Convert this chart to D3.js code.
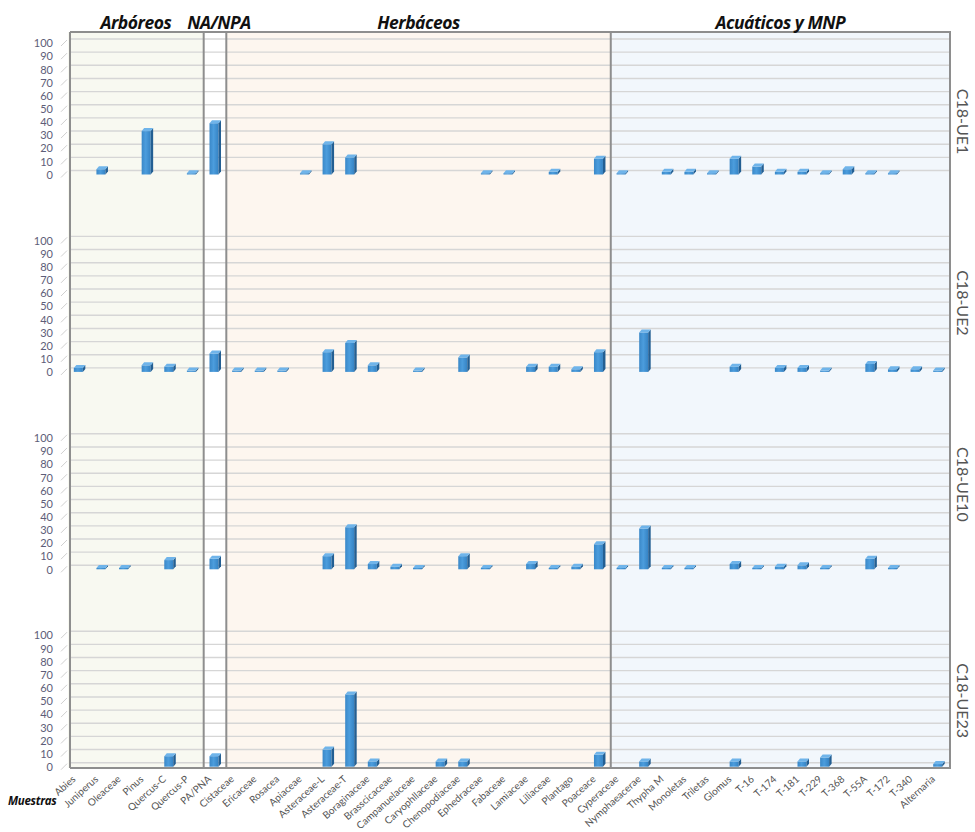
<!DOCTYPE html>
<html>
<head>
<meta charset="utf-8">
<script src="https://cdn.jsdelivr.net/npm/d3@7"></script>
<style>
  html, body { margin: 0; padding: 0; background: #ffffff; }
  svg { display: block; }
</style>
</head>
<body>
<div id="chart"></div>
<script>
// ---------------- DATA ----------------
const categories = [
  "Abies","Juniperus","Oleaceae","Pinus","Quercus-C","Quercus-P",
  "PA/PNA",
  "Cistaceae","Ericaceae","Rosacea","Apiaceae","Asteraceae-L","Asteraceae-T","Boraginaceae",
  "Brasscicaceae","Campanuelaceae","Caryophllaceae","Chenopodiaceae","Ephedraceae","Fabaceae",
  "Lamiaceae","Liliaceae","Plantago","Poaceace",
  "Cyperaceae","Nymphaeacerae","Thypha M","Monoletas","Triletas","Glomus","T-16","T-174",
  "T-181","T-229","T-368","T-55A","T-172","T-340","Alternaria"
];
const groupNames = ["Arbóreos", "NA/NPA", "Herbáceos", "Acuáticos y MNP"];
const groupSizes = [6, 1, 17, 15];
const samples = ["C18-UE1", "C18-UE2", "C18-UE10", "C18-UE23"];

const ue1  = [0,4,0,33,0,1, 39, 0,0,0,1,23,13,0, 0,0,0,0,1,1, 0,2,0,12, 1,0,2,2,1,12,6,2, 2,1,4,1,1,0,0];
const ue2  = [3,0,0,5,4,1, 14, 1,1,1,0,15,22,5, 0,1,0,11,0,0, 4,4,2,15, 0,30,0,0,0,4,0,3, 3,1,0,6,2,2,1];
const ue10 = [0,1,1,0,7,0, 8, 0,0,0,0,10,32,4, 2,1,0,10,1,0, 4,1,2,19, 1,31,1,1,0,4,1,2, 3,1,0,8,1,0,0];
const ue23 = [0,0,0,0,8,0, 8, 0,0,0,0,13,55,4, 0,0,4,4,0,0, 0,0,0,9, 0,4,0,0,0,4,0,0, 4,7,0,0,0,0,2];
const seriesValues = [ue1, ue2, ue10, ue23];
const yTicks = [0,10,20,30,40,50,60,70,80,90,100];

// ---------------- LAYOUT ----------------
const W = 975, H = 832;
const plotLeft = 68, plotRight = 950, frameTop = 32, frameBottom = 768;
const groupFills = ["#f8f9f1", "#ffffff", "#fdf6ef", "#f2f7fc"];
const sampleLabelOffsets = [-53, -69, -85, -66];

const svg = d3.select("#chart").append("svg")
  .attr("width", W).attr("height", H)
  .attr("viewBox", `0 0 ${W} ${H}`);

const defs = svg.append("defs");
const grad = defs.append("linearGradient").attr("id", "front").attr("x1", "0").attr("x2", "1").attr("y1", "0").attr("y2", "0");
grad.append("stop").attr("offset", "0%").attr("stop-color", "#3a88c8");
grad.append("stop").attr("offset", "45%").attr("stop-color", "#4c9ddd");
grad.append("stop").attr("offset", "100%").attr("stop-color", "#3583c4");

const x = d3.scaleBand().domain(categories).range([plotLeft, plotRight]).paddingInner(0).paddingOuter(0);
const panelBase = d3.scalePoint().domain(samples).range([174.5, 766.7]);
const panelHeight = 131.5;

// group extents
let idx = 0;
const groups = groupNames.map((name, i) => {
  const first = categories[idx];
  const last = categories[idx + groupSizes[i] - 1];
  idx += groupSizes[i];
  return { name, x0: x(first), x1: x(last) + x.bandwidth(), fill: groupFills[i] };
});

// backgrounds
svg.append("g").selectAll("rect").data(groups).join("rect")
  .attr("x", d => d.x0).attr("y", frameTop)
  .attr("width", d => d.x1 - d.x0).attr("height", frameBottom - frameTop)
  .attr("fill", d => d.fill);

// gridlines, tick labels
samples.forEach((s, si) => {
  const base = panelBase(s);
  const y = d3.scaleLinear().domain([0, 100]).range([base, base - panelHeight]);
  const g = svg.append("g");
  g.selectAll("line.grid").data(yTicks).join("line")
    .attr("class", "grid")
    .attr("x1", plotLeft + 2).attr("x2", plotRight)
    .attr("y1", d => y(d) - 4).attr("y2", d => y(d) - 4)
    .attr("stroke", "#d6d6d6").attr("stroke-width", 1.4);
  g.selectAll("line.diag").data(yTicks).join("line")
    .attr("class", "diag")
    .attr("x1", 61).attr("x2", 67)
    .attr("y1", d => y(d) + 3).attr("y2", d => y(d) - 3)
    .attr("stroke", "#d0d0d0").attr("stroke-width", 1);
  g.selectAll("text.tick").data(yTicks).join("text")
    .attr("class", "tick")
    .attr("x", 53).attr("y", d => y(d) + 1.5)
    .attr("text-anchor", "end").attr("dominant-baseline", "middle")
    .attr("font-family", "Lato, 'Open Sans', sans-serif").attr("font-size", 11)
    .attr("fill", "#5d5d78")
    .text(d => d);

  // sample label on the right
  svg.append("text")
    .attr("transform", `translate(957, ${base + sampleLabelOffsets[si]}) rotate(90)`)
    .attr("text-anchor", "middle")
    .attr("font-family", "Lato, 'Open Sans', sans-serif").attr("font-size", 16)
    .attr("fill", "#555555")
    .text(s);
});

// frame lines
const frame = svg.append("g").attr("stroke", "#8e8e8e").attr("stroke-width", 2).attr("fill", "none");
frame.append("line").attr("x1", plotLeft + 2).attr("x2", plotRight + 1).attr("y1", frameTop).attr("y2", frameTop);
frame.append("line").attr("x1", plotLeft + 2).attr("x2", plotRight + 1).attr("y1", frameBottom).attr("y2", frameBottom);
frame.append("line").attr("x1", plotLeft + 2).attr("x2", plotLeft + 2).attr("y1", frameTop).attr("y2", frameBottom);
groups.forEach(gr => {
  frame.append("line").attr("x1", gr.x1).attr("x2", gr.x1).attr("y1", frameTop).attr("y2", frameBottom);
});

// bars
const fw = 9, dx = 2.5, dy = 3;
samples.forEach((s, si) => {
  const base = panelBase(s);
  const y = d3.scaleLinear().domain([0, 100]).range([base, base - panelHeight]);
  const data = categories.map((c, i) => ({ c, v: seriesValues[si][i] })).filter(d => d.v > 0);
  const g = svg.append("g");
  const bar = g.selectAll("g.bar").data(data).join("g").attr("class", "bar");
  const x0 = d => x(d.c) + x.bandwidth() / 2 - 5.5;
  bar.append("rect")
    .attr("x", x0).attr("y", d => y(d.v))
    .attr("width", fw).attr("height", d => base - y(d.v))
    .attr("fill", "url(#front)");
  bar.append("path")
    .attr("d", d => {
      const a = x0(d) + fw, t = y(d.v);
      return `M${a},${t}L${a + dx},${t - dy}L${a + dx},${base - dy}L${a},${base}Z`;
    })
    .attr("fill", "#235f93");
  bar.append("path")
    .attr("d", d => {
      const a = x0(d), t = y(d.v);
      return `M${a},${t}L${a + dx},${t - dy}L${a + fw + dx},${t - dy}L${a + fw},${t}Z`;
    })
    .attr("fill", "#6fb4ea");
});

// group headers
svg.append("g").selectAll("text").data(groups).join("text")
  .attr("x", (d, i) => (d.x0 + d.x1) / 2 + (i === 1 ? 4 : 0))
  .attr("y", 29)
  .attr("text-anchor", "middle")
  .attr("font-family", "'Open Sans', sans-serif")
  .attr("font-weight", "bold").attr("font-style", "italic")
  .attr("font-size", 17.5).attr("letter-spacing", -0.5)
  .attr("fill", "#111111")
  .text(d => d.name);

// category labels
svg.append("g").selectAll("text").data(categories).join("text")
  .attr("transform", d => `translate(${x(d) + x.bandwidth() / 2 - 3}, 780) rotate(-42)`)
  .attr("text-anchor", "end")
  .attr("font-family", "Lato, 'Open Sans', sans-serif").attr("font-size", 10)
  .attr("fill", "#555555")
  .text(d => d);

// axis title
svg.append("text")
  .attr("x", 8).attr("y", 805)
  .attr("font-family", "'Open Sans', sans-serif")
  .attr("font-weight", "bold").attr("font-style", "italic")
  .attr("font-size", 11.5).attr("letter-spacing", -0.3)
  .attr("fill", "#111111")
  .text("Muestras");
</script>
</body>
</html>
